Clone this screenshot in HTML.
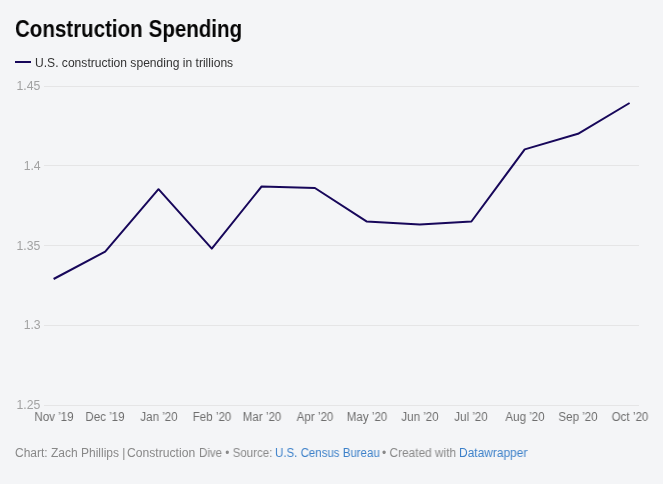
<!DOCTYPE html>
<html lang="en"><head><meta charset="utf-8"><title>Construction Spending</title>
<style>
html,body{margin:0;padding:0}
body{width:664px;height:484px;background:#f4f5f7;position:relative;overflow:hidden;font-family:"Liberation Sans",sans-serif;color:#333}
.t{position:absolute;white-space:nowrap;line-height:1;transform-origin:0 50%;will-change:transform}
h1{position:absolute;margin:0;left:15.2px;top:17.7px;font-size:23px;line-height:1;font-weight:700;color:#060606;white-space:nowrap;word-spacing:0.3px;will-change:transform;transform-origin:0 50%;transform:scaleX(0.892)}
.leg{left:34.9px;top:56.8px;font-size:12px;color:#333;transform:scaleX(1.007)}
.legline{position:absolute;left:15px;top:61px;width:16px;height:2px;background:#17075a}
.yl{right:623.4px;font-size:12px;color:#a2a2a2;transform-origin:100% 50%;transform:scaleX(1.02)}
.edge{position:absolute;left:663px;top:0;width:1px;height:484px;background:#fff}
.xl{font-size:12px;color:#6e6e6e;transform-origin:50% 50%;transform:translateX(-50%) scaleX(0.965);top:411.2px}
.foot{top:446.6px;font-size:12px;color:#888}
.foot.a{color:#3c80c9}
svg{position:absolute;left:0;top:0}
</style></head><body>
<h1>Construction Spending</h1>
<div class="legline"></div>
<div class="t leg">U.S. construction spending in trillions</div>
<svg width="664" height="484" viewBox="0 0 664 484">
<line x1="44" x2="639" y1="86.5" y2="86.5" stroke="#e5e5e6" stroke-width="1" shape-rendering="crispEdges"/>
<line x1="44" x2="639" y1="165.5" y2="165.5" stroke="#e5e5e6" stroke-width="1" shape-rendering="crispEdges"/>
<line x1="44" x2="639" y1="245.5" y2="245.5" stroke="#e5e5e6" stroke-width="1" shape-rendering="crispEdges"/>
<line x1="44" x2="639" y1="325.5" y2="325.5" stroke="#e5e5e6" stroke-width="1" shape-rendering="crispEdges"/>
<line x1="44" x2="639" y1="405.5" y2="405.5" stroke="#e5e5e6" stroke-width="1" shape-rendering="crispEdges"/>
<polyline points="53.6,279 105.2,251.6 158.5,189.2 211.8,248.6 261.6,186.5 314.9,188 366.5,221.4 419.8,224.5 471.4,221.5 524.7,149.4 578.0,133.8 629.6,103" fill="none" stroke="#17075a" stroke-width="2" stroke-linejoin="round" stroke-linecap="butt"/>
</svg>
<div class="t yl" style="top:79.84px">1.45</div>
<div class="t yl" style="top:159.84px">1.4</div>
<div class="t yl" style="top:239.84px">1.35</div>
<div class="t yl" style="top:318.84px">1.3</div>
<div class="t yl" style="top:398.84px">1.25</div>
<div class="t xl" style="left:53.6px">Nov ’19</div>
<div class="t xl" style="left:105.2px">Dec ’19</div>
<div class="t xl" style="left:158.5px">Jan ’20</div>
<div class="t xl" style="left:211.8px">Feb ’20</div>
<div class="t xl" style="left:261.6px">Mar ’20</div>
<div class="t xl" style="left:314.9px">Apr ’20</div>
<div class="t xl" style="left:366.5px">May ’20</div>
<div class="t xl" style="left:419.8px">Jun ’20</div>
<div class="t xl" style="left:471.4px">Jul ’20</div>
<div class="t xl" style="left:524.7px">Aug ’20</div>
<div class="t xl" style="left:578.0px">Sep ’20</div>
<div class="t xl" style="left:629.6px">Oct ’20</div>
<div class="t foot" style="left:14.7px;transform:scaleX(1.0)">Chart: Zach Phillips |</div>
<div class="t foot" style="left:126.6px;transform:scaleX(1.012)">Construction</div>
<div class="t foot" style="left:198.9px;transform:scaleX(0.962)">Dive • Source:</div>
<div class="t foot a" style="left:274.8px;transform:scaleX(0.958)">U.S. Census Bureau</div>
<div class="t foot" style="left:382.4px;transform:scaleX(0.989)">• Created with</div>
<div class="t foot a" style="left:459.2px;transform:scaleX(0.994)">Datawrapper</div>
<div class="edge"></div>
</body></html>
